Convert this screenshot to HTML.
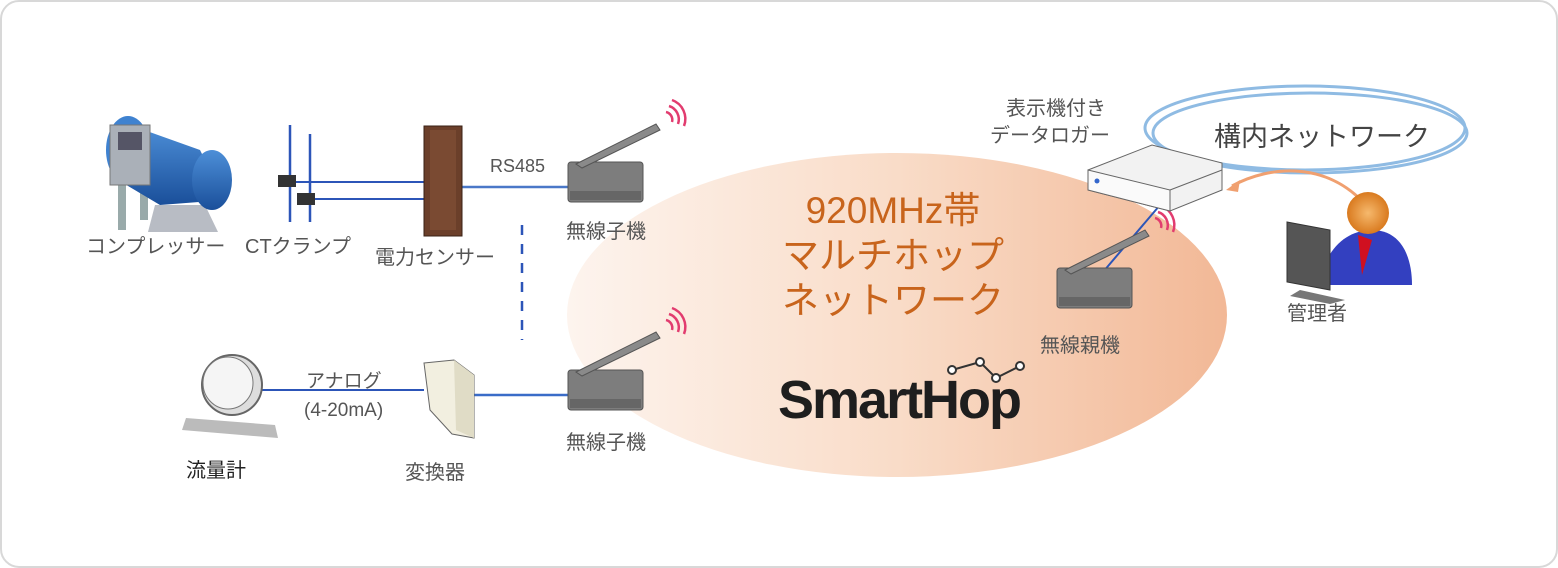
<!DOCTYPE html>
<html><head><meta charset="utf-8"><style>
html,body{margin:0;padding:0;background:#fff;}
svg{display:block;}
text{font-family:"Liberation Sans","Noto Sans CJK JP",sans-serif;}
</style></head><body>
<svg width="1558" height="568" viewBox="0 0 1558 568" xmlns="http://www.w3.org/2000/svg">
<defs>
<linearGradient id="eg" x1="0" x2="1" y1="0" y2="0">
<stop offset="0" stop-color="#fdf4ee"/><stop offset="0.5" stop-color="#f9dcc8"/><stop offset="1" stop-color="#f2b896"/>
</linearGradient>
<linearGradient id="blue" x1="0" x2="0" y1="0" y2="1">
<stop offset="0" stop-color="#4d8fd8"/><stop offset="1" stop-color="#1a4f9a"/>
</linearGradient>
<radialGradient id="head"><stop offset="0" stop-color="#f6b96d"/><stop offset="1" stop-color="#d97a1f"/></radialGradient>
<g id="radio">
<rect x="0" y="0" width="75" height="40" rx="3" fill="#7d7d7d" stroke="#555"/>
<rect x="2" y="29" width="71" height="9" fill="#666"/>
<path d="M8 2 L88 -38 L92 -32 L14 6 Z" fill="#8a8a8a" stroke="#555"/>
<path d="M98 -50 a8 8 0 0 1 6 10 M101 -56 a14 14 0 0 1 9 18 M104 -62 a20 20 0 0 1 12 26" stroke="#e23c6f" stroke-width="2.5" fill="none"/>
</g>
</defs>
<rect x="1" y="1" width="1556" height="566" rx="18" fill="#fff" stroke="#d8d8d8" stroke-width="2"/>
<ellipse cx="897" cy="315" rx="330" ry="162" fill="url(#eg)"/>

<line x1="288" y1="182" x2="424" y2="182" stroke="#2c55b8" stroke-width="2"/>
<line x1="300" y1="199" x2="424" y2="199" stroke="#2c55b8" stroke-width="2"/>
<line x1="462" y1="187" x2="568" y2="187" stroke="#4a78c8" stroke-width="2.5"/>
<line x1="290" y1="125" x2="290" y2="222" stroke="#2c55b8" stroke-width="2.5"/>
<line x1="310" y1="134" x2="310" y2="222" stroke="#2c55b8" stroke-width="2.5"/>
<line x1="522" y1="225" x2="522" y2="340" stroke="#2c55b8" stroke-width="2.5" stroke-dasharray="10,9"/>
<line x1="262" y1="390" x2="424" y2="390" stroke="#2c55b8" stroke-width="2"/>
<line x1="474" y1="395" x2="568" y2="395" stroke="#3a6cc8" stroke-width="2.5"/>
<line x1="1160" y1="205" x2="1103" y2="272" stroke="#2c55b8" stroke-width="2"/>

<g>
<rect x="118" y="170" width="8" height="60" fill="#9aa"/><rect x="140" y="170" width="8" height="50" fill="#9aa"/>
<path d="M155 205 L205 205 L218 232 L148 232 Z" fill="#b8bcc4"/>
<path d="M130 125 L200 150 L225 200 L160 205 L118 180 Z" fill="url(#blue)"/>
<ellipse cx="128" cy="150" rx="22" ry="34" fill="#3f82d0"/>
<ellipse cx="212" cy="180" rx="20" ry="30" fill="url(#blue)"/>
<rect x="110" y="125" width="40" height="60" fill="#aab0b8" stroke="#777"/>
<rect x="118" y="132" width="24" height="18" fill="#556"/>
</g>
<rect x="278" y="175" width="18" height="12" fill="#333"/><rect x="297" y="193" width="18" height="12" fill="#333"/>
<rect x="424" y="126" width="38" height="110" fill="#6b3f2a" stroke="#3a2216"/>
<rect x="430" y="130" width="26" height="100" fill="#7a4a32"/>
<use href="#radio" x="568" y="162"/>
<use href="#radio" x="568" y="370"/>
<use href="#radio" x="1057" y="268"/>
<path d="M186 418 L275 425 L278 438 L182 430 Z" fill="#bbb"/>
<ellipse cx="232" cy="385" rx="30" ry="30" fill="#ddd" stroke="#666" stroke-width="2"/>
<ellipse cx="228" cy="383" rx="25" ry="26" fill="#f5f5f5" stroke="#777"/>
<path d="M424 363 L454 360 L474 375 L474 438 L452 434 L430 410 Z" fill="#f2efe0" stroke="#666"/>
<path d="M454 360 L474 375 L474 438 L456 430 Z" fill="#e0dcc6"/>
<ellipse cx="1305" cy="128" rx="160" ry="42" fill="none" stroke="#8fbbe3" stroke-width="3"/>
<ellipse cx="1310" cy="133" rx="157" ry="40" fill="none" stroke="#8fbbe3" stroke-width="3"/>
<path d="M1088 170 L1152 145 L1222 163 L1222 190 L1170 211 L1088 190 Z" fill="#f2f2f2" stroke="#666"/>
<path d="M1088 170 L1170 190 L1170 211 L1088 190 Z" fill="#fafafa" stroke="#666"/>
<path d="M1170 190 L1222 170" stroke="#666"/>
<circle cx="1097" cy="181" r="2.5" fill="#36c"/>
<path d="M1370 210 C1330 160 1270 165 1232 186" stroke="#f0a070" stroke-width="3" fill="none"/>
<path d="M1226 190 L1240 180 L1238 192 Z" fill="#f0a070"/>
<path d="M1320 285 C1325 245 1350 230 1372 230 C1400 230 1412 255 1412 285 Z" fill="#3340c0"/>
<path d="M1358 235 L1372 240 L1362 275 Z" fill="#d01020"/>
<circle cx="1368" cy="213" r="21" fill="url(#head)"/>
<path d="M1287 222 L1330 230 L1330 290 L1287 282 Z" fill="#555" stroke="#333"/>
<path d="M1300 290 L1345 300 L1330 304 L1290 296 Z" fill="#777"/>
<g fill="#555" font-size="20">
<text x="86" y="253">コンプレッサー</text>
<text x="245" y="253">CTクランプ</text>
<text x="375" y="264">電力センサー</text>
<text x="490" y="172" font-size="18">RS485</text>
<text x="566" y="238">無線子機</text>
<text x="566" y="449">無線子機</text>
<text x="306" y="387" font-size="19">アナログ</text>
<text x="304" y="416" font-size="19">(4-20mA)</text>
<text x="186" y="477" fill="#222">流量計</text>
<text x="405" y="479">変換器</text>
<text x="1040" y="352">無線親機</text>
<text x="1006" y="115">表示機付き</text>
<text x="990" y="142">データロガー</text>
<text x="1287" y="320">管理者</text>
<text x="1214" y="146" font-size="27" fill="#444">構内ネットワーク</text>
</g>
<g fill="#c8641c" font-size="37" text-anchor="middle">
<text x="893" y="223">920MHz帯</text>
<text x="893" y="268">マルチホップ</text>
<text x="893" y="313">ネットワーク</text>
</g>
<text x="778" y="418" font-size="54" font-weight="bold" fill="#1e1e1e" letter-spacing="-2">SmartHop</text>
<polyline points="952,370 980,362 996,378 1020,366" stroke="#333" stroke-width="2" fill="none"/>
<g fill="#fff" stroke="#333" stroke-width="2"><circle cx="952" cy="370" r="4"/><circle cx="980" cy="362" r="4"/><circle cx="996" cy="378" r="4"/><circle cx="1020" cy="366" r="4"/></g>
</svg>
</body></html>
